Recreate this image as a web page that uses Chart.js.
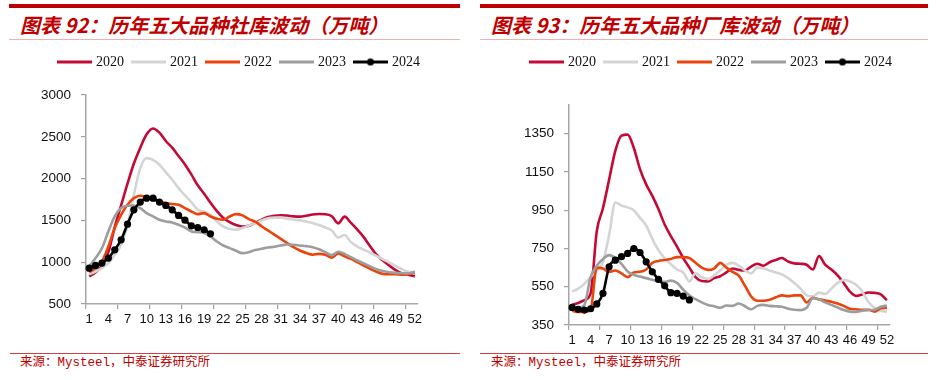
<!DOCTYPE html>
<html><head><meta charset="utf-8">
<script src="https://cdn.jsdelivr.net/npm/chart.js@4.4.1/dist/chart.umd.min.js"></script>
<style>
html,body{margin:0;padding:0;background:#fff;width:938px;height:380px;overflow:hidden;position:relative;font-family:"Noto Sans CJK SC",sans-serif;}
.bar{position:absolute;top:4px;height:4px;background:#c00000;}
.title{position:absolute;top:13px;font-size:20px;line-height:24px;font-weight:bold;font-style:italic;color:#c00000;white-space:nowrap;}
.sub{position:absolute;top:39px;height:1px;background:#eeb0b0;}
.srcline{position:absolute;top:353px;height:1px;background:#d04040;}
.src{position:absolute;top:355px;font-size:12.5px;line-height:16px;color:#c00000;white-space:nowrap;font-family:"Liberation Mono","Noto Sans CJK SC",monospace;}
canvas{position:absolute;}
</style></head>
<body>
<div class="bar" style="left:9px;width:451px"></div>
<div class="bar" style="left:480px;width:448px"></div>
<div class="title" style="left:20px">图表 92：历年五大品种社库波动（万吨）</div>
<div class="title" style="left:491px">图表 93：历年五大品种厂库波动（万吨）</div>
<div class="sub" style="left:9px;width:451px"></div>
<div class="sub" style="left:480px;width:448px"></div>
<canvas id="c1" width="451" height="288" style="left:9px;top:44px"></canvas>
<canvas id="c2" width="448" height="309" style="left:480px;top:44px"></canvas>
<div class="srcline" style="left:10px;width:450px"></div>
<div class="srcline" style="left:480px;width:448px"></div>
<div class="src" style="left:20px">来源：Mysteel，中泰证券研究所</div>
<div class="src" style="left:491px">来源：Mysteel，中泰证券研究所</div>
<script>
// ---- data ----
const weeks = ['1','2','3','4','5','6','7','8','9','10','11','12','13','14','15','16','17','18','19','20','21','22','23','24','25','26','27','28','29','30','31','32','33','34','35','36','37','38','39','40','41','42','43','44','45','46','47','48','49','50','51','52'];
const seriesNames = ['2020','2021','2022','2023','2024'];
const yTicksSocial = [500,1000,1500,2000,2500,3000];
const yTicksFactory = [350,550,750,950,1150,1350];

const social2020 = [830,880,960,1120,1420,1680,1940,2180,2370,2530,2600,2550,2450,2370,2270,2170,2050,1920,1820,1710,1610,1530,1480,1445,1425,1435,1470,1510,1540,1555,1562,1558,1548,1545,1555,1570,1576,1574,1550,1465,1545,1470,1390,1300,1190,1090,1020,960,905,865,850,830];
const social2021 = [857,889,929,989,1089,1208,1447,1806,2125,2245,2225,2165,2077,1986,1886,1798,1719,1627,1607,1567,1487,1427,1400,1388,1408,1440,1465,1500,1525,1533,1533,1520,1510,1500,1488,1470,1445,1415,1380,1295,1325,1240,1185,1150,1115,1075,1035,995,955,915,885,880];
const social2022 = [881,929,1009,1188,1408,1567,1687,1766,1794,1774,1746,1727,1707,1695,1687,1647,1607,1575,1587,1547,1519,1507,1547,1575,1560,1515,1485,1430,1380,1330,1280,1230,1180,1140,1110,1090,1100,1090,1055,1105,1070,1040,1000,960,920,885,860,855,855,850,860,875];
const social2023 = [949,1049,1168,1368,1547,1647,1675,1679,1647,1587,1547,1507,1487,1475,1447,1415,1368,1360,1348,1308,1248,1200,1168,1136,1108,1120,1145,1160,1175,1185,1200,1212,1208,1200,1192,1180,1155,1120,1085,1125,1100,1060,1020,985,950,915,895,880,872,868,865,885];
const social2024 = [929,961,989,1049,1148,1268,1455,1627,1719,1766,1766,1719,1679,1627,1559,1503,1435,1415,1388,1340];

const factory2020 = [455,465,480,515,840,960,1110,1260,1340,1345,1275,1165,1085,1025,955,875,815,760,700,650,600,580,578,595,605,625,645,638,635,655,670,660,678,690,700,682,672,670,665,640,710,665,640,610,570,525,502,510,520,518,510,480];
const factory2021 = [525,540,565,600,635,680,820,990,975,965,950,910,870,800,740,700,668,640,625,578,620,600,590,610,635,665,675,660,635,620,650,645,635,625,615,595,570,540,505,500,520,512,540,570,585,578,560,525,470,440,425,420];
const factory2022 = [425,418,418,430,650,645,628,635,620,600,625,628,640,675,685,690,695,705,705,700,675,650,638,645,675,650,628,608,555,500,477,477,482,495,505,500,505,505,468,492,484,478,472,462,450,435,432,430,430,420,437,440];
const factory2023 = [445,438,455,600,660,695,715,700,670,630,612,603,595,586,578,576,582,570,535,505,485,468,455,448,440,452,450,462,448,432,450,455,450,448,445,435,430,428,440,490,485,468,455,442,428,420,418,425,428,430,445,452];
const factory2024 = [442,432,428,435,460,515,654,689,707,724,750,729,680,628,588,555,519,515,501,481];

// ---- styles ----
const colors = ['#c30a37','#d4d4d4','#e8440c','#9d9d9d','#000000'];

function legendImg(color, dot){
  const c = document.createElement('canvas'); c.width = 35; c.height = 9;
  const g = c.getContext('2d');
  g.strokeStyle = color; g.lineWidth = 3;
  g.beginPath(); g.moveTo(0,4.5); g.lineTo(35,4.5); g.stroke();
  if (dot){ g.fillStyle = color; g.beginPath(); g.arc(17.5,4.5,3.6,0,Math.PI*2); g.fill(); }
  return c;
}
const legendImgs = colors.map((c,i)=>legendImg(c, i===4));

function makeChart(id, seriesList, yTicks, yMin, yMax, padL, yW, rW, legendH){
  const datasets = seriesList.map((vals,i)=>({
    label: seriesNames[i],
    data: vals,
    borderColor: colors[i],
    backgroundColor: colors[i],
    borderWidth: 2.6,
    pointRadius: i===4 ? 3.6 : 0,
    pointHoverRadius: 0,
    pointBackgroundColor: colors[i],
    pointBorderWidth: 0,
    cubicInterpolationMode: 'monotone',
    fill: false,
    order: 5 - i,
    yAxisID: 'y'
  }));
  const spacer = {
    id: 'legendSpacer',
    beforeInit(chart){
      const lg = chart.legend;
      if (!lg) return;
      const orig = lg.fit;
      lg.fit = function(){ orig.call(this); this.height = legendH; };
    }
  };
  return new Chart(document.getElementById(id), {
    type: 'line',
    data: { labels: weeks, datasets },
    plugins: [spacer],
    options: {
      responsive: false,
      animation: false,
      devicePixelRatio: 1,
      layout: { padding: { top: 1, left: padL, right: 0, bottom: 0 } },
      plugins: {
        tooltip: { enabled: false },
        legend: {
          position: 'top',
          align: 'center',
          labels: {
            usePointStyle: true,
            pointStyleWidth: 29,
            padding: 10,
            color: '#111',
            font: { family: '"Liberation Serif", "Times New Roman", serif', size: 14 },
            generateLabels: (chart) => chart.data.datasets.map((ds,i)=>({
              text: ds.label, pointStyle: legendImgs[i], fillStyle: 'rgba(0,0,0,0)',
              strokeStyle: 'rgba(0,0,0,0)', lineWidth: 0, hidden: false, datasetIndex: i, fontColor: '#111'
            }))
          }
        }
      },
      scales: {
        x: {
          type: 'category',
          offset: true,
          grid: {
            display: true, drawOnChartArea: false, drawTicks: true, tickLength: 5, offset: true,
            lineWidth: 1.2,
            color: (c) => (c.index % 5 === 0 ? '#a0a0a0' : 'rgba(0,0,0,0)')
          },
          border: { display: true, color: '#a6a6a6', width: 1.5 },
          ticks: {
            autoSkip: false, maxRotation: 0, minRotation: 0, padding: 3, color: '#111',
            font: { family: '"Liberation Sans", Arial, sans-serif', size: 13 },
            callback: (v, i) => (i % 3 === 0 ? weeks[i] : '')
          },
          afterFit: (s) => { s.height = 28; }
        },
        y: {
          position: 'left',
          min: yMin, max: yMax,
          afterBuildTicks: (s) => { s.ticks = yTicks.map(v => ({ value: v })); },
          grid: { drawOnChartArea: false, drawTicks: true, tickLength: 5, color: '#a0a0a0', lineWidth: 1.2 },
          border: { display: true, color: '#a6a6a6', width: 1.5 },
          ticks: { padding: 10, color: '#111', font: { family: '"Liberation Sans", Arial, sans-serif', size: 13.5 },
                   callback: (v) => String(v) },
          afterFit: (s) => { s.width = yW; }
        },
        yR: {
          position: 'right',
          display: true,
          grid: { display: false, drawTicks: false },
          border: { display: false },
          ticks: { display: false },
          afterFit: (s) => { s.width = rW; }
        }
      }
    }
  });
}

makeChart('c1', [social2020, social2021, social2022, social2023, social2024], yTicksSocial, 500, 3000, 11, 66, 42, 50);
makeChart('c2', [factory2020, factory2021, factory2022, factory2023, factory2024], yTicksFactory, 350, 1500, 16, 73, 38, 60);
</script>
</body></html>
